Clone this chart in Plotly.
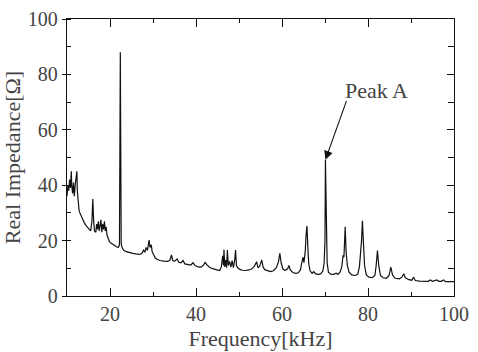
import plotly.graph_objects as go

freq_khz = [
    10.0, 10.2, 10.4, 10.6, 10.8, 11.0, 11.1, 11.3, 11.5, 11.7, 11.9, 12.1, 12.3, 12.4, 12.6, 12.8,
    13.0, 13.3, 13.6, 14.0, 14.4, 14.8, 15.2, 15.5, 15.8, 16.0, 16.2, 16.4, 16.7, 16.9, 17.1, 17.3,
    17.5, 17.7, 17.9, 18.1, 18.3, 18.5, 18.7, 18.9, 19.1, 19.3, 19.6, 19.9, 20.3, 20.7, 21.1, 21.5,
    21.9, 22.2, 22.4, 22.6, 22.8, 23.2, 23.8, 24.5, 25.3, 26.0, 26.8, 27.4, 27.8, 28.1, 28.4, 28.7,
    28.9, 29.1, 29.3, 29.6, 29.8, 30.1, 30.5, 31.0, 31.6, 32.5, 33.3, 33.9, 34.3, 34.6, 35.0, 35.6,
    36.0, 36.5, 37.0, 37.4, 38.0, 38.8, 39.3, 39.8, 40.5, 41.2, 41.8, 42.1, 42.5, 43.2, 44.0, 44.8,
    45.5, 45.9, 46.2, 46.4, 46.5, 46.7, 46.9, 47.1, 47.3, 47.5, 47.8, 48.1, 48.4, 48.7, 49.0, 49.2,
    49.4, 49.7, 50.2, 50.8, 51.5, 52.3, 53.0, 53.6, 54.1, 54.4, 54.8, 55.3, 55.6, 56.0, 56.7, 57.3,
    58.0, 58.7, 59.2, 59.5, 59.8, 60.2, 60.7, 61.3, 61.6, 61.9, 62.5, 63.2, 63.8, 64.3, 64.6, 64.9,
    65.1, 65.4, 65.6, 65.8, 66.0, 66.2, 66.5, 67.0, 67.4, 67.8, 68.4, 69.0, 69.5, 69.8, 70.0, 70.1,
    70.3, 70.5, 70.8, 71.3, 72.0, 72.6, 73.0, 73.5, 73.9, 74.2, 74.4, 74.7, 74.9, 75.2, 75.6, 76.2,
    77.0, 77.6, 78.0, 78.3, 78.5, 78.7, 78.9, 79.2, 79.6, 80.2, 81.0, 81.6, 81.9, 82.2, 82.5, 82.9,
    83.5, 84.3, 84.9, 85.3, 85.7, 86.3, 87.3, 87.9, 88.3, 88.7, 89.5, 90.2, 90.6, 91.0, 92.0, 93.0,
    94.0, 94.5, 95.0, 96.0, 96.5, 97.0, 97.6, 98.0, 99.0, 100.0,
]
real_impedance = [
    36, 40, 38, 42, 39, 45, 40, 37, 41, 36, 40, 43, 45, 38, 34, 31,
    30, 29, 27.5, 26.5, 25.5, 24.8, 24, 23.5, 27, 35, 27, 23.5, 23, 26, 24, 27,
    23.5, 25, 27.5, 23, 26, 24, 27, 23.5, 25, 22, 21, 19.5, 19, 18.5, 18, 17.8,
    17.5, 18.5, 88, 19, 17.5, 16.5, 16, 15.6, 15.4, 15.2, 15.0, 15.3, 16.5, 15.8, 17.5, 16.5,
    18.5, 20.2, 17.5, 18.5, 16, 15, 13.8, 13.2, 12.8, 12.6, 12.5, 12.8, 14.8, 12.8, 12.5, 13.4,
    12.2, 12.0, 12.8, 11.6, 11.4, 11.2, 12.0, 11.0, 10.5, 10.4, 11.2, 12.2, 11.3, 10.3, 9.8, 9.4,
    9.2, 10.5, 14.5, 11, 16.8, 10.5, 13, 10.2, 16.6, 11, 12.5, 10.4, 12.8, 10.2, 13, 16.6,
    11, 10.2, 9.6, 9.3, 9.2, 9.4, 9.8, 10.8, 12.4, 10.2, 10.8, 13, 10.4, 9.5, 9.0, 8.8,
    9.1, 10.2, 12.5, 15.4, 12, 9.8, 9.2, 9.8, 11, 9.5, 8.5, 8.2, 8.4, 9.5, 12, 14,
    12, 16, 22, 25.3, 18, 12, 9.2, 8.2, 8.8, 8.0, 7.8, 8.0, 9.0, 12, 20, 49.2,
    30, 12, 8.6, 7.9, 7.8, 8.2, 7.8, 8.6, 10.5, 14.7, 14, 25.0, 16, 11, 8.6, 7.6,
    7.4, 7.8, 10.5, 15, 20, 27.2, 18, 11, 7.6, 6.8, 6.6, 7.4, 11, 16.4, 11, 7.4,
    6.6, 6.4, 7.4, 10.4, 7.6, 6.4, 6.2, 6.8, 8.0, 6.6, 5.9, 5.7, 6.8, 5.6, 5.4, 5.3,
    5.3, 5.8, 5.3, 5.8, 5.3, 5.3, 5.8, 5.2, 5.2, 5.2,
]

x_ticks = [20, 40, 60, 80, 100]
y_ticks = [0, 20, 40, 60, 80, 100]
x_range = [10, 100]
y_range = [0, 100]

peak_label = "Peak A"
peak_freq, peak_val = 70.1, 49.2
label_pos = (81.9, 74.2)
arrow_tail = (75.1, 70.9)

serif = "Times New Roman"
ink = "#111111"


def tfont(size):
    return dict(family=serif, size=size)


fig = go.Figure()
fig.add_trace(go.Scatter(x=freq_khz, y=real_impedance, mode="lines",
                         line=dict(color=ink, width=1.2), showlegend=False))
fig.add_trace(go.Scatter(x=[None], y=[None], xaxis="x2", yaxis="y2", showlegend=False,
                         hoverinfo="skip"))

fig.update_layout(
    template="none",
    width=478, height=352,
    margin=dict(l=67, r=24, t=19, b=56),
    paper_bgcolor="white", plot_bgcolor="white",
    xaxis=dict(range=x_range, tickvals=x_ticks, ticks="inside", ticklen=8, tickwidth=1.2,
               tickcolor=ink, showline=True, linecolor=ink, linewidth=1.3, showgrid=False,
               zeroline=False, tickfont=tfont(20),
               minor=dict(dtick=10, ticks="inside", ticklen=4, tickcolor=ink, showgrid=False),
               title=dict(text="Frequency[kHz]", font=tfont(22), standoff=6)),
    yaxis=dict(range=y_range, tickvals=y_ticks, ticks="outside", ticklen=4, tickwidth=1.2,
               tickcolor=ink, showline=True, linecolor=ink, linewidth=1.3, showgrid=False,
               zeroline=False, tickfont=tfont(20),
               minor=dict(dtick=10, ticks="inside", ticklen=4, tickcolor=ink, showgrid=False),
               title=dict(text="Real Impedance[Ω]", font=tfont(22), standoff=4)),
    xaxis2=dict(range=x_range, overlaying="x", side="top", tickvals=x_ticks, ticks="inside",
                ticklen=8, tickwidth=1.2, tickcolor=ink, showline=True, linecolor=ink,
                linewidth=1.3, showticklabels=False, showgrid=False, zeroline=False,
                minor=dict(dtick=10, ticks="inside", ticklen=4, tickcolor=ink, showgrid=False)),
    yaxis2=dict(range=y_range, overlaying="y", side="right", tickvals=y_ticks, ticks="inside",
                ticklen=7, tickwidth=1.2, tickcolor=ink, showline=True, linecolor=ink,
                linewidth=1.3, showticklabels=False, showgrid=False, zeroline=False,
                minor=dict(dtick=10, ticks="inside", ticklen=6, tickcolor=ink, showgrid=False)),
)

fig.add_annotation(x=label_pos[0], y=label_pos[1], text=peak_label, showarrow=False,
                   font=tfont(22), xanchor="center", yanchor="middle")
fig.add_annotation(x=peak_freq, y=peak_val, ax=arrow_tail[0], ay=arrow_tail[1],
                   axref="x", ayref="y", text="", showarrow=True, arrowhead=2,
                   arrowsize=1.6, arrowwidth=1.1, arrowcolor=ink, standoff=0)

fig.write_html("out.html")
